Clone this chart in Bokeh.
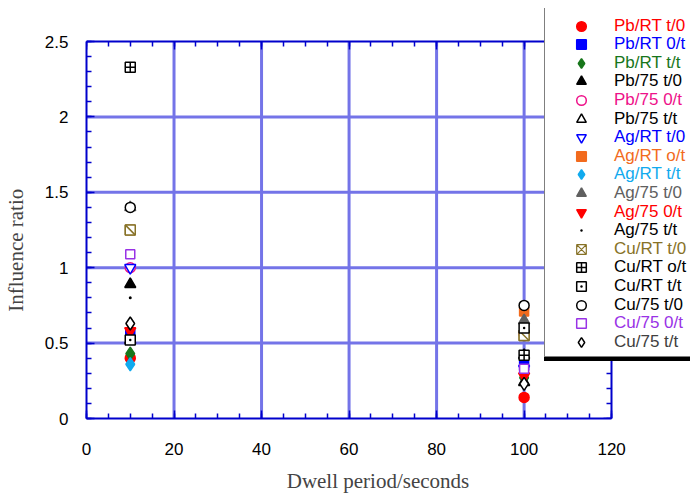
import math
from bokeh.plotting import figure
from bokeh.models import Range1d, LinearAxis, FixedTicker, Legend, LegendItem
from bokeh.embed import file_html
from bokeh.resources import INLINE

# ---- data -------------------------------------------------------------
dwell = [10, 100]  # seconds

pb_rt_t0 = [0.40, 0.14]
pb_rt_0t = [0.56, 0.35]
pb_rt_tt = [0.43, 0.27]
pb_75_t0 = [0.89, 0.42]
pb_75_0t = [1.00, 0.56]
pb_75_tt = [0.52, 0.24]
ag_rt_t0 = [1.00, 0.33]
ag_rt_ot = [1.25, 0.71]
ag_rt_tt = [0.36, 0.60]
ag_75_t0 = [1.40, 0.65]
ag_75_0t = [0.58, 0.28]
ag_75_tt = [0.80, 0.75]
cu_rt_t0 = [1.25, 0.55]
cu_rt_ot = [2.33, 0.42]
cu_rt_tt = [0.52, 0.60]
cu_75_t0 = [1.40, 0.75]
cu_75_0t = [1.09, 0.33]
cu_75_tt = [0.63, 0.23]

x_ticks = [0, 20, 40, 60, 80, 100, 120]
y_ticks = [0, 0.5, 1, 1.5, 2, 2.5]
y_tick_labels = ["0", "0.5", "1", "1.5", "2", "2.5"]
x_title = "Dwell period/seconds"
y_title = "Influence ratio"

# ---- styles -----------------------------------------------------------
RED = "#ff0000"; BLUE = "#0000ff"; GREEN = "#17761b"; PINK = "#ee1189"
ORANGE = "#f26b1d"; CYAN = "#11aaee"; GREY = "#606060"; OLIVE = "#877227"
PURPLE = "#9932e6"; BLACK = "#000000"; DGREY = "#404040"

series = [
    ("Pb/RT t/0", pb_rt_t0, "circle", RED, RED, RED),
    ("Pb/RT 0/t", pb_rt_0t, "square", BLUE, BLUE, BLUE),
    ("Pb/RT t/t", pb_rt_tt, "diamond", GREEN, GREEN, GREEN),
    ("Pb/75 t/0", pb_75_t0, "triangle", BLACK, BLACK, BLACK),
    ("Pb/75 0/t", pb_75_0t, "circle", "white", PINK, PINK),
    ("Pb/75 t/t", pb_75_tt, "triangle", "white", BLACK, BLACK),
    ("Ag/RT t/0", ag_rt_t0, "inverted_triangle", "white", BLUE, BLUE),
    ("Ag/RT o/t", ag_rt_ot, "square", ORANGE, ORANGE, ORANGE),
    ("Ag/RT t/t", ag_rt_tt, "diamond", CYAN, CYAN, CYAN),
    ("Ag/75 t/0", ag_75_t0, "triangle", GREY, GREY, GREY),
    ("Ag/75 0/t", ag_75_0t, "inverted_triangle", RED, RED, RED),
    ("Ag/75 t/t", ag_75_tt, "dot", BLACK, BLACK, BLACK),
    ("Cu/RT t/0", cu_rt_t0, "square_diag", "white", OLIVE, OLIVE),
    ("Cu/RT o/t", cu_rt_ot, "square_cross", "white", BLACK, BLACK),
    ("Cu/RT t/t", cu_rt_tt, "square_dot", "white", BLACK, BLACK),
    ("Cu/75 t/0", cu_75_t0, "circle", "white", BLACK, BLACK),
    ("Cu/75 0/t", cu_75_0t, "square", "white", PURPLE, PURPLE),
    ("Cu/75 t/t", cu_75_tt, "diamond", "white", BLACK, DGREY),
]
sizes = {"circle": 10, "square": 9, "diamond": 13, "triangle": 11,
         "inverted_triangle": 11, "dot": 12, "square_cross": 10,
         "square_dot": 10, "square_diag": 10}

# ---- layout geometry (pixels) -----------------------------------------
W, H = 690, 498
L, T, B = 85, 8, 80            # frame: x 85..690, y 8..418
AX_RIGHT_PX, AX_TOP_PX = 611, 41   # where x=120 and y=2.5 fall
AX = "#0000cc"
GRID = "#7474e8"

px_x = (AX_RIGHT_PX - L) / (x_ticks[-1] - x_ticks[0])
px_y = ((H - B) - AX_TOP_PX) / (y_ticks[-1] - y_ticks[0])
x_end = x_ticks[0] + (W - L) / px_x
y_end = y_ticks[0] + ((H - B) - T) / px_y

p = figure(width=W, height=H, output_backend="svg", toolbar_location=None,
           x_range=Range1d(x_ticks[0], x_end), y_range=Range1d(y_ticks[0], y_end),
           min_border_left=L, min_border_right=0, min_border_top=T, min_border_bottom=B,
           x_axis_type=None, y_axis_type=None)
p.background_fill_color = "white"
p.border_fill_color = "white"
p.outline_line_color = None


def make_axis(ticks, minor, bounds, tick_in, tick_out, show_labels, overrides=None,
              fixed=None):
    ax = LinearAxis(ticker=FixedTicker(ticks=ticks, minor_ticks=minor), bounds=bounds)
    if fixed is not None:
        ax.fixed_location = fixed
    ax.axis_line_color = AX
    ax.axis_line_width = 2
    ax.major_tick_line_color = AX
    ax.minor_tick_line_color = AX
    ax.major_tick_line_width = 1.5
    ax.minor_tick_line_width = 1.5
    ax.major_tick_in = tick_in
    ax.major_tick_out = tick_out
    ax.minor_tick_in = 5 if tick_in else 0
    ax.minor_tick_out = 5 if tick_out else 0
    ax.major_label_text_font = "Liberation Sans"
    ax.major_label_text_color = "black"
    if show_labels:
        ax.major_label_text_font_size = "17px"
        if overrides:
            ax.major_label_overrides = overrides
    else:
        ax.major_label_text_font_size = "0px"
        ax.major_label_standoff = 0
        ax.major_label_overrides = {t: "" for t in ticks}
    return ax


x_minor = [v for v in range(x_ticks[0], x_ticks[-1] + 1, 5)]
y_minor = [round(v * 0.1, 2) for v in range(0, 26)]
xb_bounds = (x_ticks[0], x_ticks[-1])
yb_bounds = (y_ticks[0], y_ticks[-1])

NB = "\u00a0"
xb = make_axis(x_ticks, x_minor, xb_bounds, 8, 0, True)
xb.major_label_standoff = 24
xb.axis_label = x_title + NB * 4
xb.axis_label_text_font = "Liberation Serif"
xb.axis_label_text_font_size = "21px"
xb.axis_label_text_font_style = "normal"
xb.axis_label_standoff = 11

yl = make_axis(y_ticks, y_minor, yb_bounds, 8, 0, True,
               {t: s for t, s in zip(y_ticks, y_tick_labels)})
yl.major_label_standoff = 18
yl.axis_label = y_title + NB * 14
yl.axis_label_text_font = "Liberation Serif"
yl.axis_label_text_font_size = "21px"
yl.axis_label_text_font_style = "normal"
yl.axis_label_standoff = 14

xt = make_axis(x_ticks, x_minor, xb_bounds, 8, 0, False, fixed=y_ticks[-1])
yr = make_axis(y_ticks, y_minor, yb_bounds, 8, 0, False, fixed=x_ticks[-1])
p.add_layout(xb, "below")
p.add_layout(yl, "left")
p.add_layout(xt, "above")
p.add_layout(yr, "right")

# grid lines at inner major ticks, limited to the axis box
gx = x_ticks[1:-1]
gy = y_ticks[1:-1]
p.segment(x0=gx, y0=[y_ticks[0]] * len(gx), x1=gx, y1=[y_ticks[-1]] * len(gx),
          line_color=GRID, line_width=3)
p.segment(x0=[x_ticks[0]] * len(gy), y0=gy, x1=[x_ticks[-1]] * len(gy), y1=gy,
          line_color=GRID, line_width=3)

# ---- data markers -----------------------------------------------------
renderers = []
for name, vals, marker, fill, line, _tc in series:
    s = sizes[marker]
    if marker == "square_diag":
        # crossed square underneath (used for the legend glyph, since legend
        # glyphs ignore marker angles), covered by square + single diagonal
        rl = p.scatter(dwell, vals, marker="square_x", size=s, fill_color=fill,
                       line_color=line, line_width=1.2)
        p.scatter(dwell, vals, marker="square", size=s, fill_color=fill,
                  line_color=line, line_width=1.5)
        p.scatter(dwell, vals, marker="dash", size=s * 1.3, angle=-math.pi / 4,
                  line_color=line, line_width=1.5)
        renderers.append([rl])
    else:
        r = p.scatter(dwell, vals, marker=marker, size=s, fill_color=fill,
                      line_color=line, line_width=1.5)
        renderers.append([r])

# ---- legend box with shadow -----------------------------------------
dummy = p.scatter([], [], marker="square", fill_alpha=0, line_alpha=0)
box_left, box_top, box_bottom = 543, 8, 357
for dx, dy, bg in ((0, 4, "black"), (0, 0, "white")):
    lg = Legend(items=[LegendItem(label="x", renderers=[dummy])],
                location=(box_left - L + dx, (H - B) - box_bottom - dy),
                padding=0, margin=0, spacing=0, label_standoff=0,
                glyph_width=20, glyph_height=20, label_width=300,
                label_height=box_bottom - box_top,
                label_text_alpha=0, background_fill_color=bg, background_fill_alpha=1,
                border_line_color="black", border_line_width=1.5)
    p.add_layout(lg, "center")

row0, pitch = 25.5, 18.6
gh = 24
for i, (name, vals, marker, fill, line, tc) in enumerate(series):
    yc = row0 + pitch * i
    lg = Legend(items=[LegendItem(label=name, renderers=renderers[i])],
                location=(580 - gh / 2 - L, (H - B) - (yc + gh / 2)),
                padding=0, margin=0, spacing=0, label_standoff=21,
                glyph_width=gh, glyph_height=gh, label_height=gh,
                label_text_font="Liberation Sans", label_text_font_size="17px",
                label_text_color=tc, background_fill_alpha=0, border_line_alpha=0)
    p.add_layout(lg, "center")

open("out.html", "w").write(file_html(p, INLINE))
